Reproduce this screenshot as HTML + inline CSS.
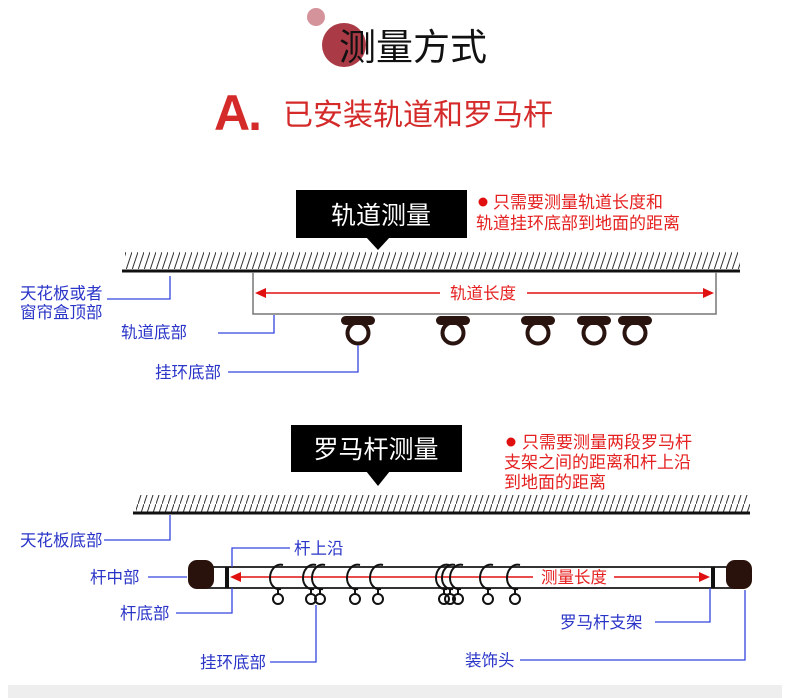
<!DOCTYPE html>
<html><head><meta charset="utf-8"><style>
body{margin:0;background:#fff}
svg{display:block}
text{font-family:"Liberation Sans","Noto Sans CJK SC",sans-serif}
</style></head><body>
<svg width="790" height="698" viewBox="0 0 790 698" xmlns="http://www.w3.org/2000/svg">
<defs>
<pattern id="h" width="6" height="18" patternUnits="userSpaceOnUse">
<line x1="0" y1="18" x2="6" y2="0" stroke="#333" stroke-width="1"/>
</pattern>
<g id="roll"><rect x="-17" y="0" width="34" height="9" rx="4.5" fill="#2a1410"/><circle cx="0" cy="17" r="10.5" fill="none" stroke="#2a1410" stroke-width="4"/></g>
<g id="ring"><path d="M5 -12 C-3 -14,-8 -6,-8 1 C-8 8,-3 13,3 12" fill="none" stroke="#111" stroke-width="2"/><circle cx="0" cy="22" r="5" fill="none" stroke="#111" stroke-width="2"/><line x1="0" y1="12" x2="0" y2="17" stroke="#111" stroke-width="2"/></g>
</defs>
<rect width="790" height="698" fill="#fff"/>
<!-- header -->
<circle cx="316" cy="17" r="9" fill="#d4939b"/>
<circle cx="344" cy="45" r="22" fill="#a93a46"/>
<text x="339" y="60" font-size="37" fill="#111">测量方式</text>
<text x="214" y="130" font-size="50" font-weight="bold" fill="#d42a2a" font-family="Liberation Sans,sans-serif" letter-spacing="-2">A.</text>
<text x="283" y="125" font-size="30" fill="#d42a2a" font-family="'Noto Serif CJK SC',serif">已安装轨道和罗马杆</text>

<!-- section 1 -->
<rect x="296" y="190" width="171" height="48" fill="#000"/>
<polygon points="366,237 390,237 378,250" fill="#000"/>
<text x="381" y="224" font-size="25" fill="#fff" text-anchor="middle">轨道测量</text>
<circle cx="483" cy="202" r="4.5" fill="#e01010"/>
<text x="493" y="208" font-size="17" fill="#e52020">只需要测量轨道长度和</text>
<text x="476" y="229" font-size="17" fill="#e52020">轨道挂环底部到地面的距离</text>
<rect x="125" y="252" width="615" height="17" fill="url(#h)"/>
<line x1="122" y1="271" x2="740" y2="271" stroke="#111" stroke-width="3"/>
<polyline points="253,272 253,314 716,314 716,272" fill="none" stroke="#777" stroke-width="1.5"/>
<line x1="262" y1="293" x2="440" y2="293" stroke="#e01010" stroke-width="1.5"/>
<line x1="527" y1="293" x2="706" y2="293" stroke="#e01010" stroke-width="1.5"/>
<polygon points="255,293 266,288 266,298" fill="#e01010"/>
<polygon points="714,293 703,288 703,298" fill="#e01010"/>
<text x="483" y="299" font-size="16.5" fill="#e52020" text-anchor="middle">轨道长度</text>
<use href="#roll" x="358" y="316"/><use href="#roll" x="453" y="316"/><use href="#roll" x="538" y="316"/><use href="#roll" x="594" y="316"/><use href="#roll" x="635" y="316"/>
<g stroke="#3344dd" stroke-width="1.3" fill="none">
<polyline points="107,299 170,299 170,276"/>
<polyline points="218,333 274,333 274,315"/>
<polyline points="228,372 358,372 358,345"/>
</g>
<g font-size="16.5" fill="#2a35c8">
<text x="20" y="299">天花板或者</text>
<text x="20" y="318">窗帘盒顶部</text>
<text x="121" y="338">轨道底部</text>
<text x="155" y="378">挂环底部</text>
</g>

<!-- section 2 -->
<rect x="291" y="425" width="171" height="47" fill="#000"/>
<polygon points="366,471 390,471 378,486" fill="#000"/>
<text x="376" y="458" font-size="25" fill="#fff" text-anchor="middle">罗马杆测量</text>
<circle cx="511" cy="442" r="4.5" fill="#e01010"/>
<text x="522" y="448" font-size="17" fill="#e52020">只需要测量两段罗马杆</text>
<text x="504" y="468" font-size="17" fill="#e52020">支架之间的距离和杆上沿</text>
<text x="504" y="488" font-size="17" fill="#e52020">到地面的距离</text>
<rect x="136" y="495" width="614" height="17" fill="url(#h)"/>
<line x1="133" y1="513" x2="750" y2="513" stroke="#111" stroke-width="3"/>
<!-- rod -->
<rect x="200" y="567" width="540" height="21" fill="#fff" stroke="#333" stroke-width="2"/>
<rect x="188" y="560" width="26" height="29" rx="9" fill="#2a120c"/>
<rect x="726" y="560" width="26" height="29" rx="9" fill="#2a120c"/>
<rect x="225" y="567" width="4" height="21" fill="#111"/>
<rect x="711" y="567" width="4" height="21" fill="#111"/>
<line x1="238" y1="577" x2="533" y2="577" stroke="#e01010" stroke-width="1.5"/>
<line x1="614" y1="577" x2="703" y2="577" stroke="#e01010" stroke-width="1.5"/>
<polygon points="230,577 241,572 241,582" fill="#e01010"/>
<polygon points="710,577 699,572 699,582" fill="#e01010"/>
<text x="574" y="583" font-size="16.5" fill="#e52020" text-anchor="middle">测量长度</text>
<use href="#ring" x="278" y="577"/><use href="#ring" x="311" y="577"/><use href="#ring" x="320" y="577"/>
<use href="#ring" x="355" y="577"/><use href="#ring" x="378" y="577"/>
<use href="#ring" x="444" y="577"/><use href="#ring" x="450" y="577"/><use href="#ring" x="458" y="577"/>
<use href="#ring" x="488" y="577"/><use href="#ring" x="515" y="577"/>
<g stroke="#3344dd" stroke-width="1.3" fill="none">
<polyline points="104,540 170,540 170,515"/>
<polyline points="290,548 232,548 232,567"/>
<line x1="148" y1="577" x2="187" y2="577"/>
<polyline points="176,613 232,613 232,588"/>
<polyline points="270,662 316,662 316,605"/>
<polyline points="655,622 710,622 710,588"/>
<polyline points="520,660 745,660 745,590"/>
</g>
<g font-size="16.5" fill="#2a35c8">
<text x="20" y="546">天花板底部</text>
<text x="294" y="554">杆上沿</text>
<text x="90" y="583">杆中部</text>
<text x="120" y="619">杆底部</text>
<text x="200" y="668">挂环底部</text>
<text x="560" y="628">罗马杆支架</text>
<text x="465" y="666">装饰头</text>
</g>
<rect x="8" y="685" width="774" height="13" fill="#eeeeee"/>
</svg>
</body></html>
